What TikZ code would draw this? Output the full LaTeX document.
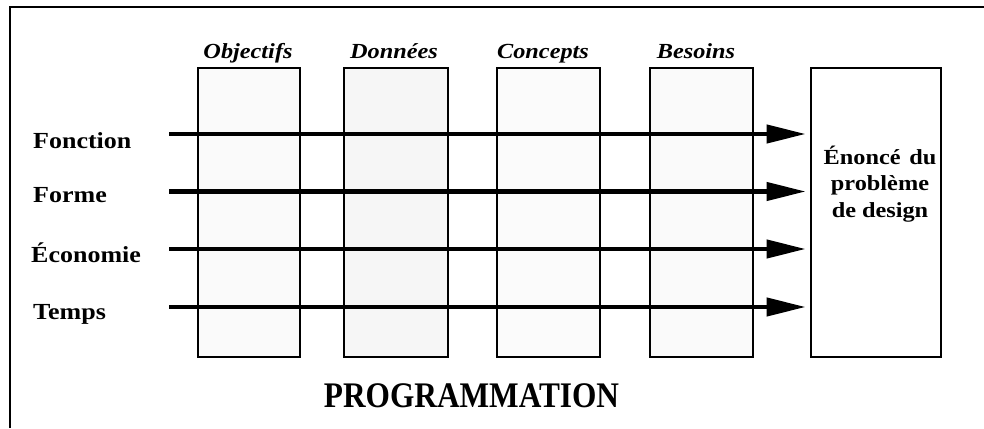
\documentclass[tikz,border=0pt]{standalone}
\usepackage{fontspec}
\setmainfont{Liberation Serif}
\newfontfamily\labfont[FakeStretch=1.13]{Liberation Serif}
\newfontfamily\progfont[FakeStretch=0.87]{Liberation Serif}
\usetikzlibrary{arrows.meta}
\tikzset{
  colbox/.style={draw, line width=2.8pt, fill=gray!4, inner sep=0pt,
    minimum height=289pt},
  outbox/.style={draw, line width=2.8pt, fill=white, inner sep=0pt,
    minimum height=289pt, minimum width=130pt},
  coltitle/.style={anchor=base, inner sep=0pt,
    font=\labfont\bfseries\itshape\fontsize{21.5}{25}\selectfont},
  rowlabel/.style={anchor=base west, inner sep=0pt,
    font=\labfont\bfseries\fontsize{23}{27}\selectfont},
  flow/.style={line width=4.3pt, -{Triangle[length=39pt,width=18pt]},
    shorten >=4pt},
  frame/.style={line width=2.8pt}
}
\begin{document}
\begin{tikzpicture}[x=1pt,y=-1pt]
\useasboundingbox (0,0) rectangle (984,428);
% frame
\draw[frame] (10,428) -- (10,7) -- (984,7);
% column boxes
\node[colbox, minimum width=102pt] (obj) at (249,212.5) {};
\node[colbox, minimum width=104pt, fill=gray!7] (don) at (396,212.5) {};
\node[colbox, minimum width=103pt, fill=gray!3] (con) at (548.5,212.5) {};
\node[colbox, minimum width=103pt, fill=gray!4] (bes) at (701.5,212.5) {};
\node[outbox] (enonce) at (876,212.5) {};
% titles
\node[coltitle] (tobj) at (248,59) {Objectifs};
\node[coltitle] (tdon) at (394,59) {Données};
\node[coltitle] (tcon) at (543,59) {Concepts};
\node[coltitle] (tbes) at (696,59) {Besoins};
% enonce text
\node[anchor=base, align=center, inner sep=0pt,
  font=\labfont\bfseries\fontsize{21.5}{26.5}\selectfont] (etext) at (880,217)
  {Énoncé\hspace{0.12em} du\\problème\\de design};
% row labels
\node[rowlabel] (lfon) at (33,148) {Fonction};
\node[rowlabel] (lfor) at (33,202) {Forme};
\node[rowlabel] (leco) at (31,262) {Économie};
\node[rowlabel] (ltem) at (33,319) {Temps};
% arrow starts
\coordinate (s1) at (169,134);
\coordinate (s2) at (169,191.5);
\coordinate (s3) at (169,249);
\coordinate (s4) at (169,307);
\draw[flow] (s1) -- (enonce.west |- s1);
\draw[flow] (s2) -- (enonce.west |- s2);
\draw[flow] (s3) -- (enonce.west |- s3);
\draw[flow] (s4) -- (enonce.west |- s4);
% title
\node[anchor=base, inner sep=0pt,
  font=\progfont\bfseries\fontsize{36}{40}\selectfont] (prog) at (471.5,407)
  {PROGRAMMATION};
\end{tikzpicture}
\end{document}
